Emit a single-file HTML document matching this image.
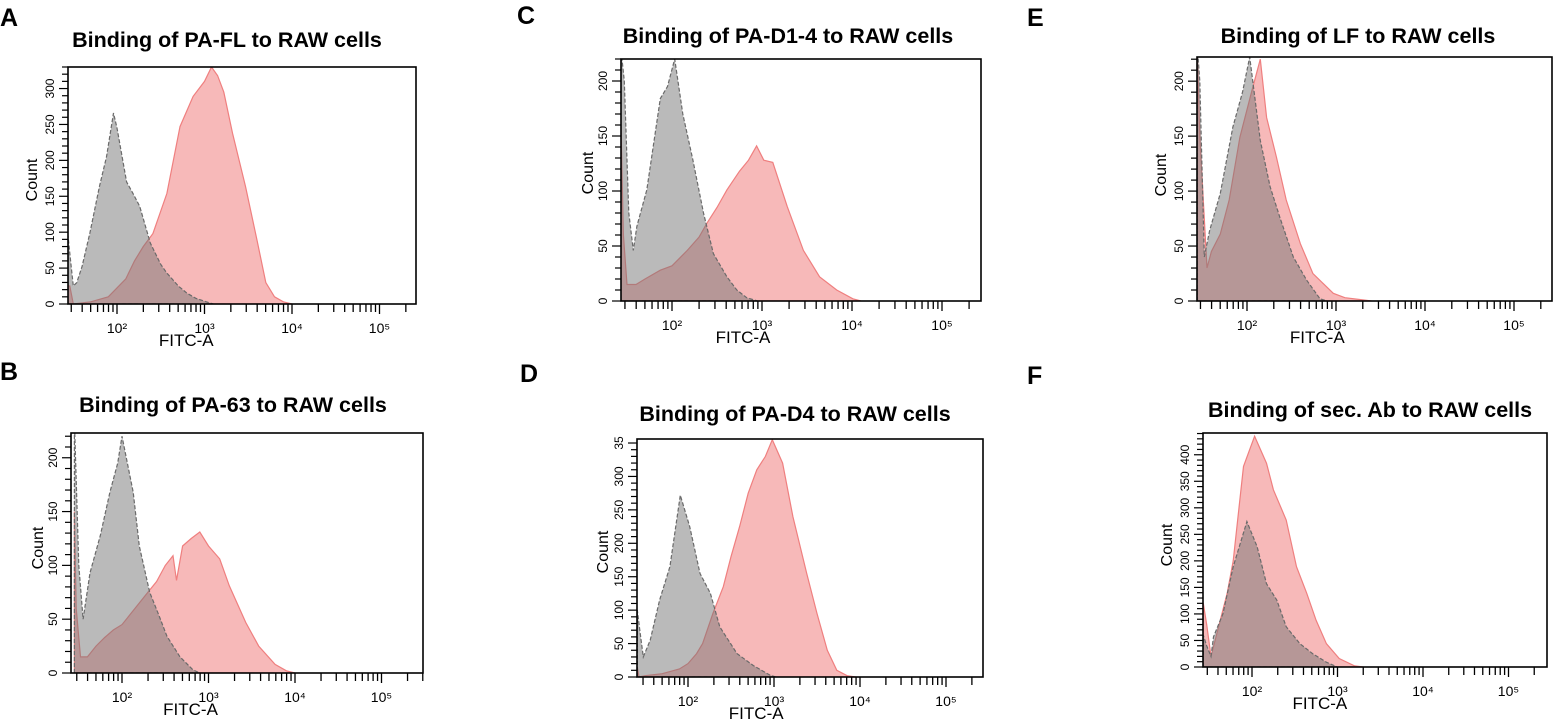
<!DOCTYPE html>
<html><head><meta charset="utf-8"><style>
html,body{margin:0;padding:0;background:#fff;}
svg{display:block;font-family:"Liberation Sans",Arial,sans-serif;}
</style></head><body>
<svg id="fig" width="1556" height="719" viewBox="0 0 1556 719" xmlns="http://www.w3.org/2000/svg"></svg>
<script>
// ---- Data (log10 FITC-A intensity, counts) ----
const aGrayLog=[1.44,1.47,1.5,1.54,1.6,1.69,1.8,1.88,1.96,2.0,2.11,2.2,2.26,2.38,2.5,2.57,2.7,2.8,2.9,3.02,3.1];
const aGrayCount=[95,60,25,30,52,99,164,205,266,245,170,150,136,85,55,43,25,15,8,3,0];
const aPinkLog=[1.44,1.46,1.5,1.7,1.9,2.1,2.2,2.3,2.41,2.57,2.72,2.87,3.0,3.08,3.15,3.22,3.32,3.47,3.6,3.7,3.8,3.9,4.0];
const aPinkCount=[25,25,0,3,10,35,60,80,98,154,247,289,310,330,318,295,238,163,89,30,10,3,0];
const bGrayLog=[1.45,1.5,1.55,1.63,1.75,1.86,1.95,2.0,2.05,2.13,2.2,2.32,2.42,2.52,2.67,2.82,2.9];
const bGrayCount=[240,100,50,93,128,168,195,220,200,168,118,75,55,34,15,3,0];
const bPinkLog=[1.45,1.47,1.52,1.6,1.7,1.8,1.9,2.0,2.1,2.2,2.3,2.4,2.5,2.59,2.63,2.7,2.8,2.9,3.0,3.13,3.24,3.43,3.58,3.77,3.9,4.0];
const bPinkCount=[150,60,15,15,25,33,40,45,55,65,75,85,100,109,86,118,125,131,118,106,81,47,25,8,2,0];
const cGrayLog=[1.43,1.47,1.52,1.57,1.61,1.72,1.87,1.95,2.03,2.12,2.23,2.35,2.46,2.61,2.72,2.83,2.95];
const cGrayCount=[240,200,80,46,68,101,184,195,220,170,129,80,43,22,10,3,0];
const cPinkLog=[1.43,1.46,1.5,1.6,1.7,1.87,2.0,2.17,2.3,2.39,2.5,2.61,2.75,2.85,2.94,3.02,3.12,3.28,3.46,3.64,3.83,4.01,4.1];
const cPinkCount=[170,60,15,15,20,28,32,46,58,71,85,101,118,128,141,128,126,86,46,22,10,2,0];
const dGrayLog=[1.41,1.44,1.48,1.56,1.67,1.79,1.91,2.02,2.14,2.26,2.37,2.57,2.76,2.95,3.02];
const dGrayCount=[100,70,30,55,115,165,272,225,155,125,75,35,17,3,0];
const dPinkLog=[1.41,1.43,1.5,1.7,1.9,2.0,2.1,2.17,2.29,2.41,2.5,2.6,2.7,2.8,2.9,2.98,3.1,3.22,3.38,3.5,3.62,3.73,3.85,3.95];
const dPinkCount=[15,0,2,5,12,20,35,50,95,135,180,225,275,310,330,355,320,240,155,95,40,10,2,0];
const eGrayLog=[1.44,1.47,1.52,1.58,1.7,1.84,1.95,2.03,2.15,2.26,2.37,2.52,2.67,2.82,2.9];
const eGrayCount=[240,200,40,64,98,158,190,222,146,104,76,40,19,2,0];
const ePinkLog=[1.44,1.47,1.55,1.6,1.7,1.8,1.92,2.05,2.15,2.22,2.33,2.44,2.6,2.74,2.97,3.1,3.3,3.4];
const ePinkCount=[240,150,30,45,61,92,149,190,220,167,131,92,52,25,7,3,1,0];
const fGrayLog=[1.43,1.47,1.52,1.55,1.66,1.78,1.94,2.06,2.17,2.29,2.4,2.56,2.71,2.87,3.0];
const fGrayCount=[60,40,20,57,100,189,274,227,157,126,76,44,25,9,0];
const fPinkLog=[1.43,1.47,1.52,1.6,1.71,1.78,1.9,2.03,2.17,2.25,2.4,2.52,2.64,2.75,2.87,3.02,3.2,3.3];
const fPinkCount=[120,80,20,70,139,200,378,435,384,334,277,189,139,88,44,16,2,0];
const titles=["Binding of PA-FL to RAW cells","Binding of PA-63 to RAW cells","Binding of PA-D1-4 to RAW cells","Binding of PA-D4 to RAW cells","Binding of LF to RAW cells","Binding of sec. Ab to RAW cells"];
const panelLetters=["A","B","C","D","E","F"];
const yMaxes=[330,223,220,356,222,441];
const aYTicks=["0","50","100","150","200","250","300"];
const bYTicks=["0","50","100","150","200"];
const cYTicks=["0","50","100","150","200"];
const dYTicks=["0","50","100","150","200","250","300","35"];
const eYTicks=["0","50","100","150","200"];
const fYTicks=["0","50","100","150","200","250","300","350","400"];
const xTickLabels=["10²","10³","10⁴","10⁵"];

// ---- Layout (pixels) ----
const layout=[
 {L:68,T:67,R:416,B:304,x100:117,dec:87.5,lx:0,ly:26,tx:227,ty:47,cx:31,cy:180},
 {L:71,T:433,R:423,B:673,x100:122,dec:86.5,lx:0,ly:380,tx:233,ty:412,cx:37,cy:548},
 {L:621,T:59,R:981,B:301,x100:672,dec:90,lx:517,ly:24,tx:788,ty:43,cx:587,cy:173},
 {L:637,T:439,R:983,B:677,x100:688,dec:86,lx:520,ly:382,tx:795,ty:421,cx:602,cy:552},
 {L:1197,T:57,R:1552,B:301,x100:1247,dec:89,lx:1027,ly:26,tx:1358,ty:43,cx:1160,cy:175},
 {L:1203,T:433,R:1547,B:667,x100:1252,dec:85.5,lx:1027,ly:384,tx:1370,ty:417,cx:1166,cy:545}
];
const series=[[aGrayLog,aGrayCount,aPinkLog,aPinkCount],[bGrayLog,bGrayCount,bPinkLog,bPinkCount],[cGrayLog,cGrayCount,cPinkLog,cPinkCount],[dGrayLog,dGrayCount,dPinkLog,dPinkCount],[eGrayLog,eGrayCount,ePinkLog,ePinkCount],[fGrayLog,fGrayCount,fPinkLog,fPinkCount]];
const yTickSets=[aYTicks,bYTicks,cYTicks,dYTicks,eYTicks,fYTicks];

const NS="http://www.w3.org/2000/svg";
const svg=document.getElementById('fig');
function mk(tag,attrs,parent){const e=document.createElementNS(NS,tag);for(const k in attrs)e.setAttribute(k,attrs[k]);(parent||svg).appendChild(e);return e;}

const panelNames=["pa-fl","pa-63","pa-d1-4","pa-d4","lf","sec-ab"];
layout.forEach((p,i)=>{
  const g=mk('g',{});
  
  
  const xs=v=>p.x100+(v-2)*p.dec;
  const ys=c=>p.B-(Math.min(c,yMaxes[i]*1.05))*(p.B-p.T)/yMaxes[i];
  const cid='clip'+i;
  const cp=mk('clipPath',{id:cid},g);
  mk('rect',{x:p.L,y:p.T,width:p.R-p.L,height:p.B-p.T},cp);
  const [gl,gc,pl,pc]=series[i];
  function pathOf(L,C){let d='M'+xs(L[0]).toFixed(1)+','+p.B;for(let k=0;k<L.length;k++)d+=' L'+xs(L[k]).toFixed(1)+','+ys(C[k]).toFixed(1);d+=' L'+xs(L[L.length-1]).toFixed(1)+','+p.B+' Z';return d;}
  const pink=mk('path',{d:pathOf(pl,pc),fill:'#f7b9b9',stroke:'#ef7f7f','stroke-width':1.2,'clip-path':'url(#'+cid+')'},g);
  
  
  const gray=mk('path',{d:pathOf(gl,gc),fill:'rgba(118,118,118,0.5)',stroke:'#6a6a6a','stroke-width':1.2,'stroke-dasharray':'4,2','clip-path':'url(#'+cid+')'},g);
  
  
  const box=mk('rect',{x:p.L,y:p.T,width:p.R-p.L,height:p.B-p.T,fill:'none',stroke:'#000','stroke-width':1.6},g);
  
  
  // y ticks
  const step=(p.B-p.T)/yMaxes[i];
  for(let v=0;v<=yMaxes[i];v+=10){
    const y=p.B-v*step;const major=v%50===0;
    mk('line',{x1:p.L-(major?9:6),x2:p.L,y1:y,y2:y,stroke:'#000','stroke-width':1.2},g);
  }
  yTickSets[i].forEach((lab,k)=>{
    const y=p.B-k*50*step;
    const t=mk('text',{x:0,y:0,'font-size':12,'text-anchor':'middle',transform:'translate('+(p.L-14)+','+y+') rotate(-90)'},g);
    t.textContent=lab;
    
    
  });
  // x ticks
  const lo=2-(p.x100-p.L)/p.dec, hi=2+(p.R-p.x100)/p.dec;
  for(let d=1;d<=5;d++)for(let m=1;m<=9;m++){
    const lv=d+Math.log10(m); if(lv<lo||lv>hi)continue;
    const x=xs(lv);
    mk('line',{x1:x,x2:x,y1:p.B,y2:p.B+(m===1?10:8),stroke:'#000','stroke-width':1.3},g);
  }
  xTickLabels.forEach((lab,k)=>{
    const t=mk('text',{x:xs(k+2),y:p.B+29,'font-size':14,'text-anchor':'middle'},g);
    t.textContent=lab;
    
    
  });
  const xt=mk('text',{x:(xs(3)+xs(2.4))/2+8,y:p.B+42,'font-size':17,'text-anchor':'middle'},g);
  xt.textContent='FITC-A';
  
  
  const ct=mk('text',{x:0,y:0,'font-size':16,'text-anchor':'middle',transform:'translate('+(p.cx+6)+','+p.cy+') rotate(-90)'},g);
  ct.textContent='Count';
  
  
  const tt=mk('text',{x:p.tx,y:p.ty,'font-size':21.5,'font-weight':'bold','text-anchor':'middle'},g);
  tt.textContent=titles[i];
  
  
  const lt=mk('text',{x:p.lx,y:p.ly,'font-size':25,'font-weight':'bold'},g);
  lt.textContent=panelLetters[i];
  
  
});
</script>
</body></html>
